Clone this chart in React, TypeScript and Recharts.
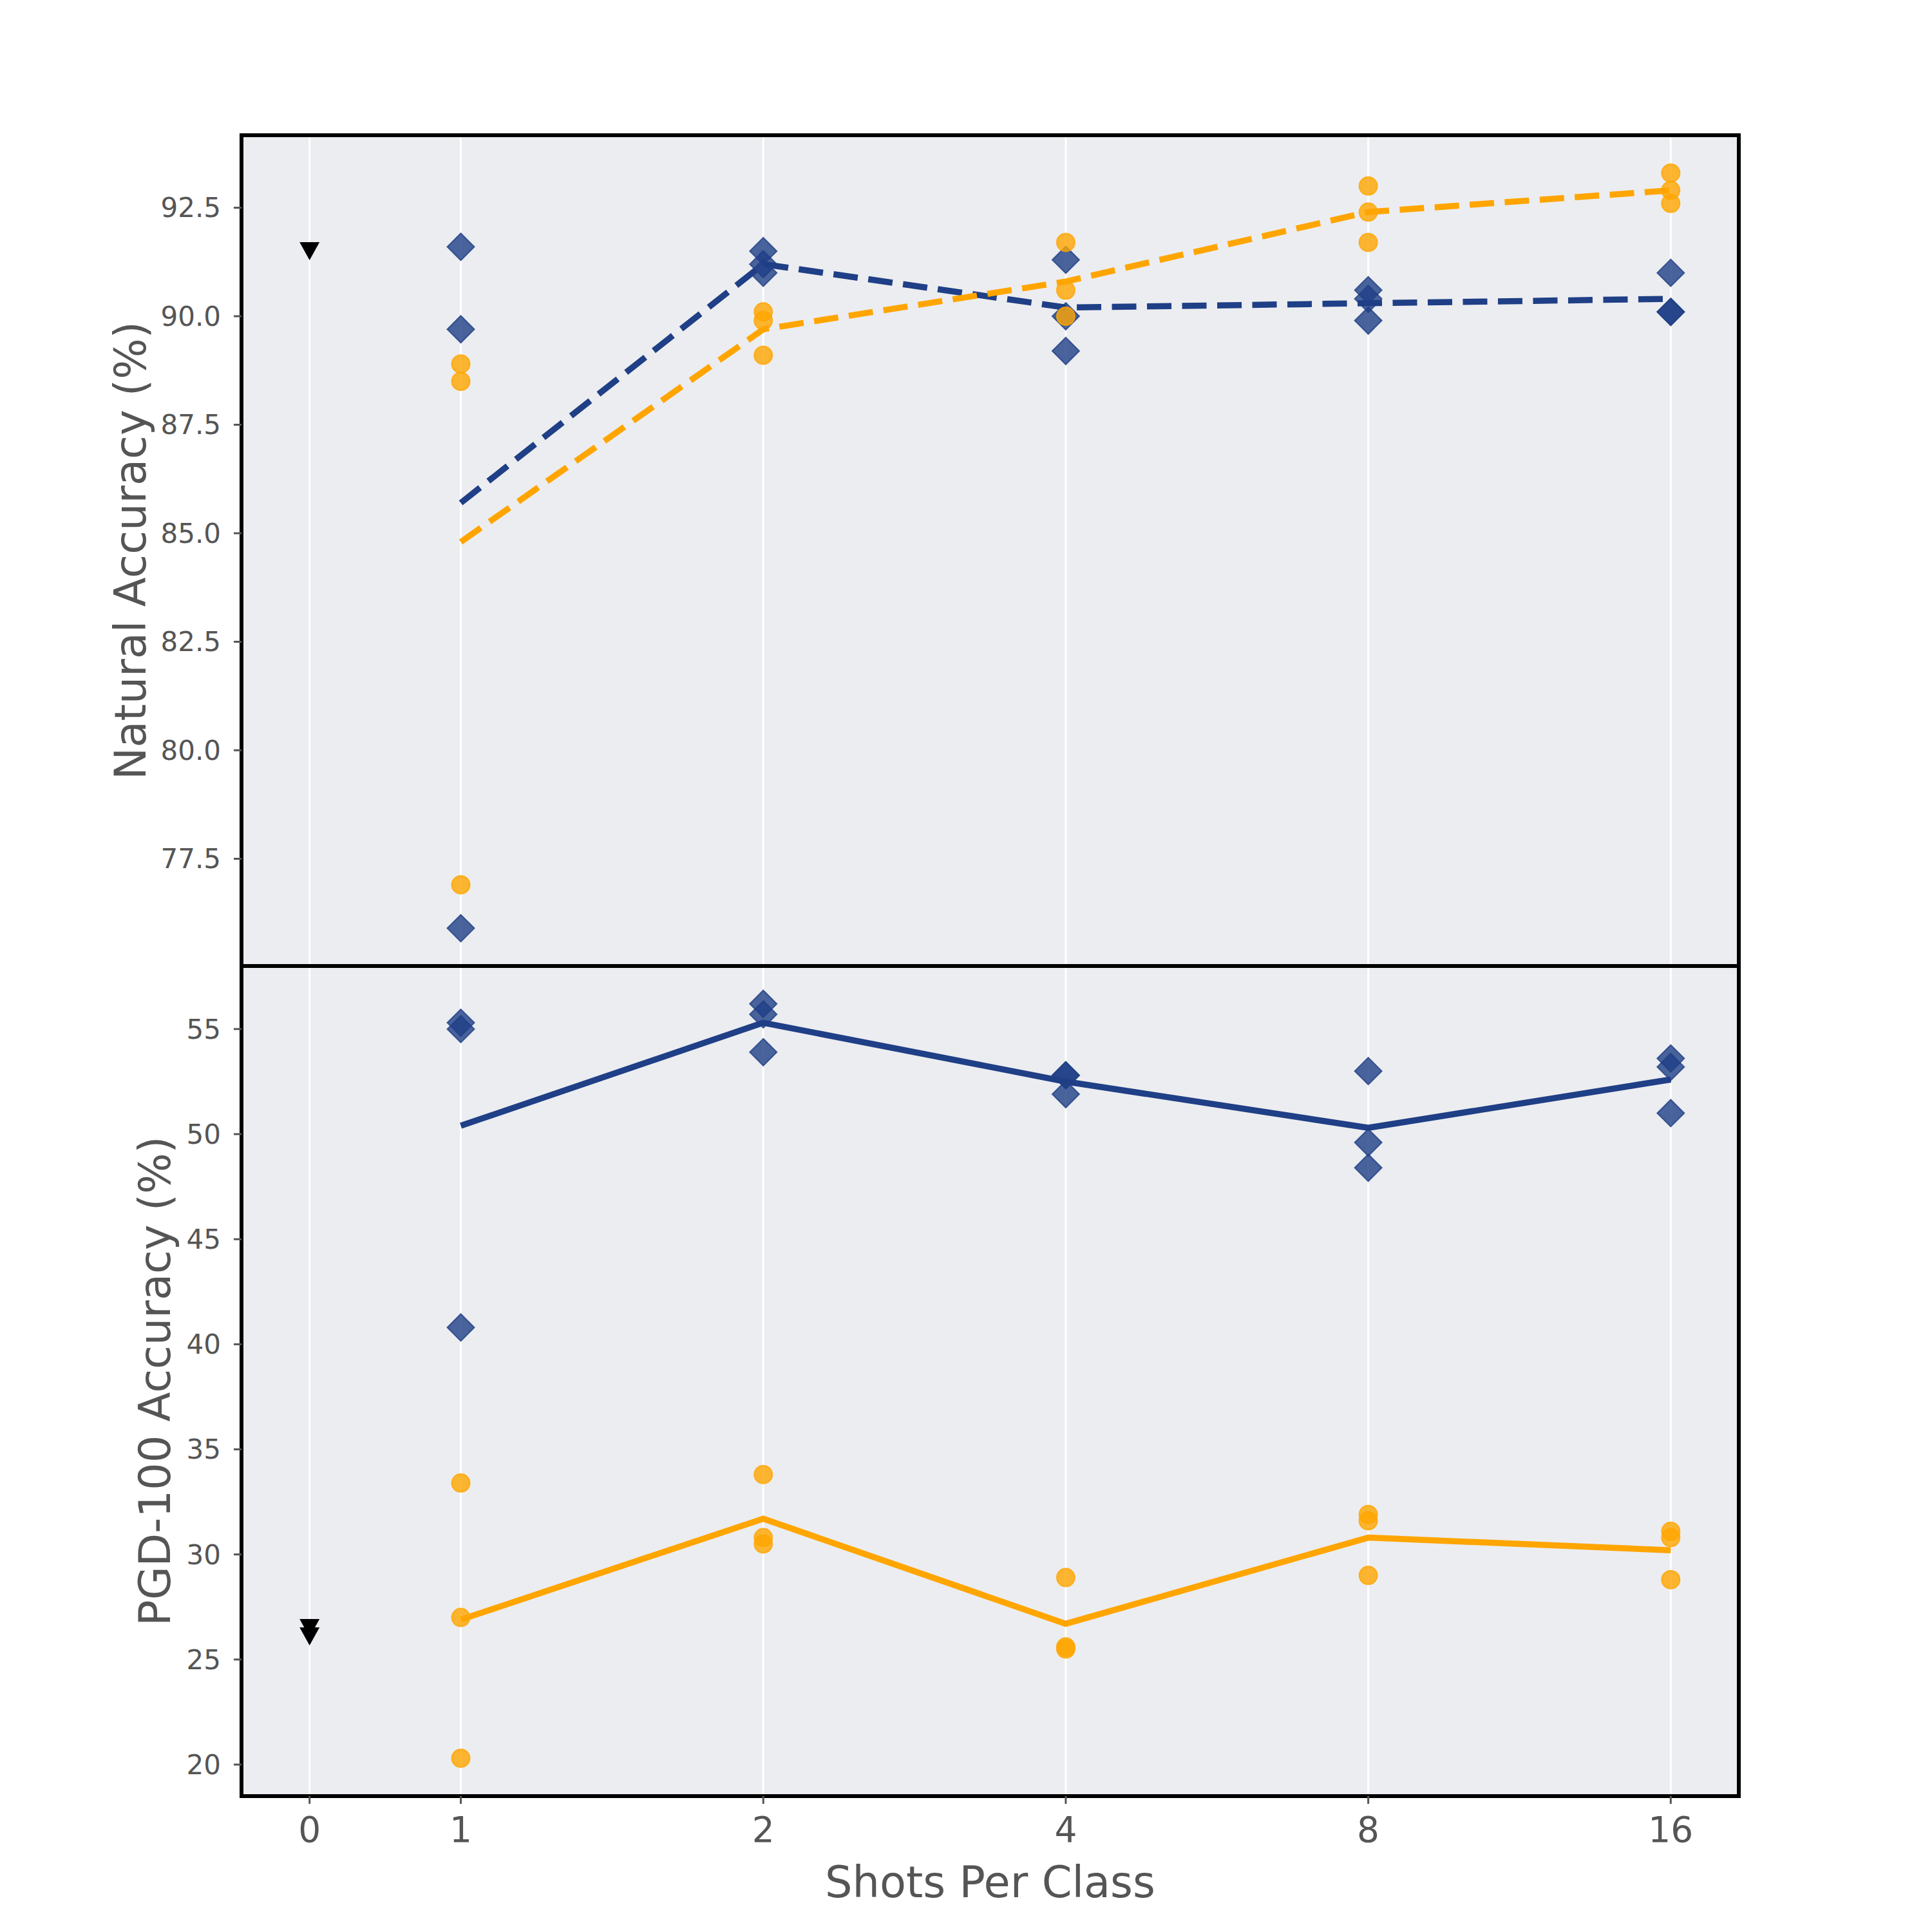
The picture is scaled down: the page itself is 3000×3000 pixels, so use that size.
import React from 'react'
import {
  ComposedChart, Line, Scatter, XAxis, YAxis,
  CartesianGrid, ReferenceArea,
} from 'recharts'

// shots per class, and the position each one gets on the x scale (0 sits half a step left of 1)
const shots = [1, 2, 4, 8, 16]
const zeroShotPos = -0.5
const xTicks = [-0.5, 0, 1, 2, 3, 4]
const xTickLabels = ['0', '1', '2', '4', '8', '16']
const xDomain: [number, number] = [-0.725, 4.225]

// natural accuracy, three runs per shot count
const natNavyRuns = [
  [91.6, 89.7, 75.9],
  [91.5, 91.2, 91.0],
  [91.3, 90.0, 89.2],
  [90.6, 90.4, 89.9],
  [91.0, 90.1, 90.1],
]
const natOrangeRuns = [
  [88.9, 88.5, 76.9],
  [90.1, 89.9, 89.1],
  [91.7, 90.6, 90.0],
  [93.0, 92.4, 91.7],
  [93.3, 92.9, 92.6],
]
const natNavyMean = [85.7, 91.2, 90.2, 90.3, 90.4]
const natOrangeMean = [84.8, 89.7, 90.8, 92.4, 92.9]
const natZeroShot = [91.5]
const natTicks = [77.5, 80, 82.5, 85, 87.5, 90, 92.5]
const natDomain: [number, number] = [75.03, 94.17]

// PGD-100 accuracy
const pgdNavyRuns = [
  [55.3, 55.0, 40.8],
  [56.2, 55.7, 53.9],
  [52.8, 52.8, 51.9],
  [53.0, 49.6, 48.4],
  [53.6, 53.2, 51.0],
]
const pgdOrangeRuns = [
  [33.4, 27.0, 20.3],
  [33.8, 30.8, 30.5],
  [28.9, 25.6, 25.5],
  [31.9, 31.6, 29.0],
  [31.1, 30.8, 28.8],
]
const pgdNavyMean = [50.4, 55.3, 52.5, 50.3, 52.6]
const pgdOrangeMean = [26.9, 31.7, 26.7, 30.8, 30.2]
const pgdZeroShot = [26.5, 26.1]
const pgdTicks = [20, 25, 30, 35, 40, 45, 50, 55]
const pgdDomain: [number, number] = [18.5, 58.0]

const NAVY = '#1f3f86'
const ORANGE = '#ffa500'
const TEXT = '#555555'
const FONT = '"DejaVu Sans", sans-serif'

const runsToPoints = (runs: number[][]) =>
  runs.flatMap((vals, i) => vals.map(v => ({ pos: Math.log2(shots[i]), value: v })))
const meanToPoints = (means: number[]) =>
  means.map((v, i) => ({ pos: Math.log2(shots[i]), value: v }))
const zeroToPoints = (vals: number[]) => vals.map(v => ({ pos: zeroShotPos, value: v }))

function Diamond({ cx, cy }: { cx?: number; cy?: number }) {
  if (cx == null || cy == null) return null
  const r = 21
  return (
    <path
      d={`M${cx},${cy - r}L${cx + r},${cy}L${cx},${cy + r}L${cx - r},${cy}Z`}
      fill={NAVY} fillOpacity={0.8} stroke={NAVY} strokeOpacity={0.8} strokeWidth={2}
    />
  )
}

function Dot({ cx, cy }: { cx?: number; cy?: number }) {
  if (cx == null || cy == null) return null
  return <circle cx={cx} cy={cy} r={14} fill={ORANGE} fillOpacity={0.8} stroke={ORANGE} strokeOpacity={0.8} strokeWidth={2} />
}

function TriangleDown({ cx, cy }: { cx?: number; cy?: number }) {
  if (cx == null || cy == null) return null
  return <path d={`M${cx - 15.5},${cy - 14}L${cx + 15.5},${cy - 14}L${cx},${cy + 14}Z`} fill="#000" />
}

function YTitle({ viewBox, text, baseline }: any) {
  const x = viewBox.x + baseline
  const y = viewBox.y + viewBox.height / 2
  return (
    <text x={x} y={y} transform={`rotate(-90 ${x} ${y})`} textAnchor="middle"
      fontSize={67} fill={TEXT} fontFamily={FONT}>
      {text}
    </text>
  )
}

function XTitle({ viewBox, text }: any) {
  return (
    <text x={viewBox.x + viewBox.width / 2} y={viewBox.y + 157} textAnchor="middle"
      fontSize={67} fill={TEXT} fontFamily={FONT}>
      {text}
    </text>
  )
}

interface PanelProps {
  navyRuns: number[][]
  orangeRuns: number[][]
  navyMean: number[]
  orangeMean: number[]
  zeroShot: number[]
  yTicks: number[]
  yDomain: [number, number]
  yFormat: (v: number) => string
  title: string
  titleBaseline: number
  dashed: boolean
  bottom: boolean
}

function Panel(p: PanelProps) {
  const dash = p.dashed ? '38 16.5' : undefined
  return (
    <ComposedChart
      width={3000}
      height={1500}
      margin={{ top: p.bottom ? 0 : 210, right: 300, bottom: 0, left: 0 }}
    >
      <CartesianGrid horizontal={false} stroke="#ffffff" strokeWidth={3} fill="#ecedf0" fillOpacity={1} />
      <XAxis
        dataKey="pos"
        type="number"
        domain={xDomain}
        ticks={xTicks}
        interval={0}
        allowDataOverflow
        height={p.bottom ? 211 : 0}
        axisLine={false}
        tick={p.bottom ? { fontSize: 55, fill: TEXT, fontFamily: FONT } : { fill: 'none', fontSize: 1 }}
        tickLine={p.bottom ? { stroke: TEXT, strokeWidth: 3 } : false}
        tickSize={12}
        tickMargin={20}
        tickFormatter={(v: number) => xTickLabels[xTicks.indexOf(v)] ?? ''}
        label={p.bottom ? { content: (lp: any) => <XTitle {...lp} text="Shots Per Class" /> } : undefined}
      />
      <YAxis
        type="number"
        domain={p.yDomain}
        ticks={p.yTicks}
        interval={0}
        allowDataOverflow
        width={375}
        axisLine={false}
        tick={{ fontSize: 42, fill: TEXT, fontFamily: FONT }}
        tickLine={{ stroke: TEXT, strokeWidth: 3 }}
        tickSize={12}
        tickMargin={20}
        tickFormatter={p.yFormat}
        label={{ content: (lp: any) => <YTitle {...lp} text={p.title} baseline={p.titleBaseline} /> }}
      />

      <Scatter data={zeroToPoints(p.zeroShot)} dataKey="value" shape={<TriangleDown />} isAnimationActive={false} />
      <Scatter data={runsToPoints(p.navyRuns)} dataKey="value" shape={<Diamond />} isAnimationActive={false} />
      <Scatter data={runsToPoints(p.orangeRuns)} dataKey="value" shape={<Dot />} isAnimationActive={false} />

      <Line
        data={meanToPoints(p.navyMean)}
        dataKey="value"
        stroke={NAVY}
        strokeWidth={9.5}
        strokeDasharray={dash}
        strokeLinejoin="round"
        dot={false}
        activeDot={false}
        isAnimationActive={false}
      />
      <Line
        data={meanToPoints(p.orangeMean)}
        dataKey="value"
        stroke={ORANGE}
        strokeWidth={9.5}
        strokeDasharray={dash}
        strokeLinejoin="round"
        dot={false}
        activeDot={false}
        isAnimationActive={false}
      />

      <ReferenceArea
        x1={xDomain[0]} x2={xDomain[1]} y1={p.yDomain[0]} y2={p.yDomain[1]}
        fill="none" fillOpacity={0} stroke="#000" strokeWidth={6} ifOverflow="visible"
      />
    </ComposedChart>
  )
}

export default function App() {
  return (
    <div style={{ position: 'relative', width: 3000, height: 3000, background: '#fff' }}>
      <style>{'body{margin:0}'}</style>
      <div style={{ position: 'absolute', left: 0, top: 0 }}>
        <Panel
          navyRuns={natNavyRuns} orangeRuns={natOrangeRuns}
          navyMean={natNavyMean} orangeMean={natOrangeMean}
          zeroShot={natZeroShot}
          yTicks={natTicks} yDomain={natDomain}
          yFormat={(v: number) => v.toFixed(1)}
          title="Natural Accuracy (%)" titleBaseline={226}
          dashed bottom={false}
        />
      </div>
      <div style={{ position: 'absolute', left: 0, top: 1500 }}>
        <Panel
          navyRuns={pgdNavyRuns} orangeRuns={pgdOrangeRuns}
          navyMean={pgdNavyMean} orangeMean={pgdOrangeMean}
          zeroShot={pgdZeroShot}
          yTicks={pgdTicks} yDomain={pgdDomain}
          yFormat={(v: number) => String(v)}
          title="PGD-100 Accuracy (%)" titleBaseline={264}
          dashed={false} bottom
        />
      </div>
    </div>
  )
}
